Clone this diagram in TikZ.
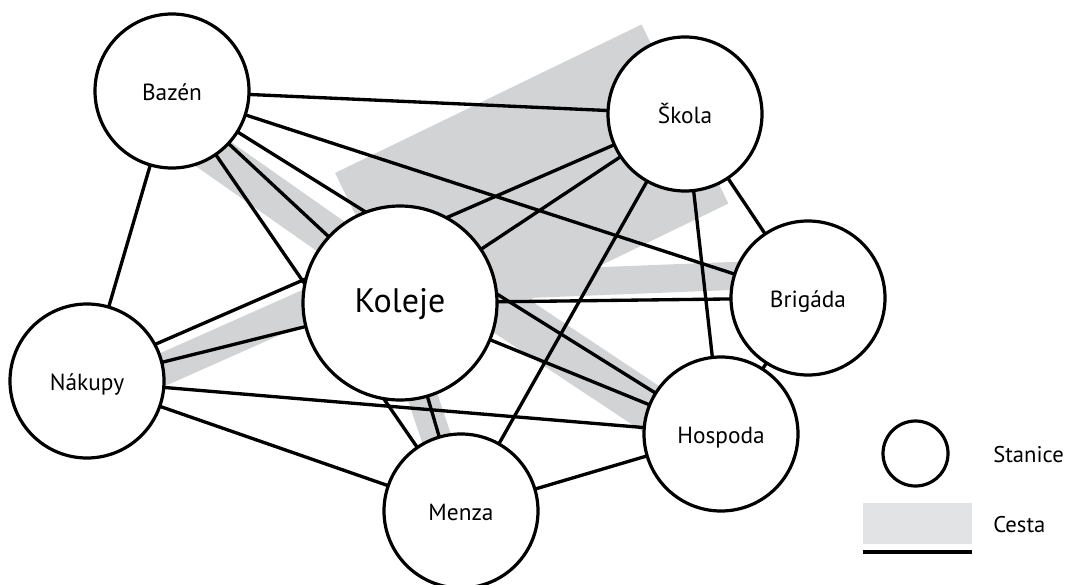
\documentclass[tikz,border=0pt]{standalone}
\usepackage{fontspec}
\setmainfont{PT Sans}
\pgfdeclarelayer{bands}
\pgfdeclarelayer{edges}
\pgfsetlayers{bands,edges,main}
\definecolor{bandgray}{HTML}{D1D3D4}
\definecolor{keygray}{HTML}{E2E3E4}

\begin{document}
\begin{tikzpicture}[x=0.75pt,y=-0.75pt,
  station/.style={circle, draw=black, line width=2.4pt, fill=white,
    minimum size=115.5pt, inner sep=0pt, text height=14pt, text depth=0pt,
    font=\fontsize{17.5}{19}\selectfont},
  hub/.style={station, minimum size=145.5pt, font=\fontsize{25.5}{28}\selectfont},
  edge/.style={draw=black, line width=2.5pt},
  band/.style={draw=bandgray, line width=#1, line cap=butt},
  band/.default=30pt,
  keytext/.style={anchor=west, inner sep=0pt, font=\fontsize{17}{19}\selectfont},
]
\useasboundingbox (0,0) rectangle (1067,585);

% stations
\node[station] (bazen)   at (172,91)  {Bazén};
\node[station] (skola)   at (685,114) {Škola};
\node[station] (brigada) at (808,298) {Brigáda};
\node[hub]     (koleje)  at (400,303) {Koleje};
\node[station] (nakupy)  at (87,381)  {Nákupy};
\node[station] (hospoda) at (721,434) {Hospoda};
\node[station] (menza)   at (461,511) {Menza};

% roads (grey bands)
\begin{pgfonlayer}{bands}
  \draw[band=30pt] ([shift={(0,34)}]bazen.center) -- ([shift={(0,-18)}]koleje.center);
  \draw[band=149.25pt] ([shift={(-21.5,-40.5)}]koleje.center) -- (skola.center);
  \draw[band=21pt] ([shift={(0,-14)}]koleje.center) -- ([shift={(0,-25)}]brigada.center);
  \draw[band=35.25pt] ([shift={(30,-41)}]koleje.center) -- ([shift={(-21,7.5)}]hospoda.center);
  \draw[band=24pt] ([shift={(23,12)}]nakupy.center) -- ([shift={(-20,-30)}]koleje.center);
  \draw[band=22.5pt] ([shift={(-9,0)}]koleje.center) -- (menza.center);
\end{pgfonlayer}

% connections
\begin{pgfonlayer}{edges}
  \draw[edge] (bazen.center) -- (skola.center);
  \draw[edge] (bazen.center) -- (brigada.center);
  \draw[edge] (bazen.center) -- (hospoda.center);
  \draw[edge] (bazen.center) -- (koleje.center);
  \draw[edge] (bazen.center) -- (menza.center);
  \draw[edge] (bazen.center) -- (nakupy.center);
  \draw[edge] (skola.center) -- ([shift={(0,-7)}]nakupy.center);
  \draw[edge] (skola.center) -- (koleje.center);
  \draw[edge] (skola.center) -- (menza.center);
  \draw[edge] (skola.center) -- (hospoda.center);
  \draw[edge] (skola.center) -- (brigada.center);
  \draw[edge] (koleje.center) -- (brigada.center);
  \draw[edge] (koleje.center) -- (hospoda.center);
  \draw[edge] (koleje.center) -- (menza.center);
  \draw[edge] (koleje.center) -- (nakupy.center);
  \draw[edge] (nakupy.center) -- (hospoda.center);
  \draw[edge] (nakupy.center) -- (menza.center);
  \draw[edge] (hospoda.center) -- (menza.center);
  \draw[edge] (brigada.center) -- (hospoda.center);
\end{pgfonlayer}

% legend
\node[station, minimum size=48.75pt] (keystation) at (915.5,453.5) {};
\node[keytext] (stanice) at (993,455) {Stanice};
\node[fill=keygray, minimum width=81.75pt, minimum height=30.75pt, inner sep=0pt] (keyband) at (917.5,523.5) {};
\draw[line width=3pt] ([yshift=-6pt]keyband.south west) -- ([yshift=-6pt]keyband.south east);
\node[keytext] (cesta) at (993,525) {Cesta};
\end{tikzpicture}
\end{document}
